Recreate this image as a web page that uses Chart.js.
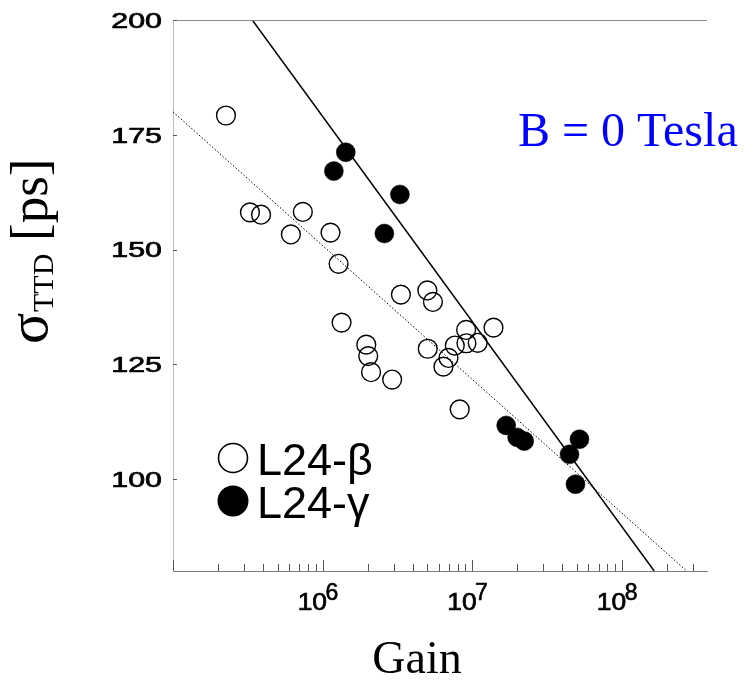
<!DOCTYPE html>
<html>
<head>
<meta charset="utf-8">
<script src="https://cdn.jsdelivr.net/npm/chart.js@4/dist/chart.umd.min.js"></script>
<style>
  html, body { margin: 0; padding: 0; background: #ffffff; }
  #wrap { width: 744px; height: 681px; }
</style>
</head>
<body>
<div id="wrap"><canvas id="c" width="744" height="681"></canvas></div>
<script>
// ---- Data ----
const betaGain  = [2.26e5, 3.27e5, 3.88e5, 6.14e5, 7.38e5, 1.13e6, 1.28e6, 1.34e6, 1.96e6, 2.02e6, 2.11e6, 2.92e6,
                   3.34e6, 5.02e6, 5.47e6, 5.05e6, 6.43e6, 6.95e6, 7.66e6, 9.12e6, 9.16e6, 1.09e7, 1.39e7, 8.26e6];
const betaSigma = [179.2, 158.1, 157.6, 153.3, 158.2, 153.7, 146.9, 134.1, 129.3, 126.8, 123.3, 121.7,
                   140.2, 141.1, 138.6, 128.4, 124.5, 126.4, 129.1, 132.5, 129.6, 129.7, 133.0, 115.2];
const gammaGain  = [1.19e6, 1.43e6, 2.59e6, 3.29e6, 1.69e7, 2.0e7, 2.23e7, 4.48e7, 4.91e7, 5.22e7];
const gammaSigma = [167.1, 171.2, 153.5, 162.0, 111.7, 109.1, 108.3, 105.4, 98.9, 108.7];
// fit lines (end points)
const solidFitGain  = [3.39e5, 1.65e8];
const solidFitSigma = [200, 80];
const dottedFitGain  = [1.0e5, 2.72e8];
const dottedFitSigma = [180, 80];
// axes
const xMin = 1e5, xMax = 3.72e8;
const yMin = 80, yMax = 200;
const xMajorTicks = [1e6, 1e7, 1e8];
const xMajorExp   = ["6", "7", "8"];
const xDecades    = [1e5, 1e6, 1e7, 1e8];
const xMinorMult  = [2, 3, 4, 5, 6, 7, 8, 9];
const yTicks = [200, 175, 150, 125, 100];
const legendLabels = ["L24-\u03B2", "L24-\u03B3"];
const annotationText = "B = 0 Tesla";
const xTitle = "Gain";

const toPts = (xs, ys) => xs.map((x, i) => ({ x: x, y: ys[i] }));

function heavyText(ctx, t, x, y, w) {
  ctx.fillText(t, x, y);
  ctx.lineWidth = w;
  ctx.strokeText(t, x, y);
}

const decor = {
  id: 'decor',
  afterDraw(chart) {
    const ctx = chart.ctx;
    const a = chart.chartArea;
    const xs = chart.scales.x, ys = chart.scales.y;
    ctx.save();
    // top frame line
    ctx.strokeStyle = '#8a8a8a';
    ctx.lineWidth = 1;
    ctx.beginPath();
    ctx.moveTo(a.left, a.top + 0.5);
    ctx.lineTo(a.right, a.top + 0.5);
    ctx.stroke();
    // x ticks (inward)
    ctx.strokeStyle = '#555';
    ctx.lineWidth = 1;
    xDecades.forEach(d => {
      [1].concat(xMinorMult).forEach(m => {
        const v = d * m;
        if (v < xMin || v > xMax) return;
        const px = Math.round(xs.getPixelForValue(v)) + 0.5;
        const len = (m === 1) ? 11 : 7;
        ctx.beginPath();
        ctx.moveTo(px, a.bottom);
        ctx.lineTo(px, a.bottom - len);
        ctx.stroke();
      });
    });
    // y ticks
    yTicks.forEach(v => {
      const py = Math.round(ys.getPixelForValue(v)) + 0.5;
      ctx.beginPath();
      ctx.moveTo(a.left, py);
      ctx.lineTo(a.left + 4, py);
      ctx.stroke();
    });
    // y tick labels (wide sans)
    ctx.fillStyle = '#000';
    ctx.strokeStyle = '#000';
    ctx.font = '22px "Liberation Sans", Arial, sans-serif';
    ctx.textAlign = 'right';
    ctx.textBaseline = 'alphabetic';
    yTicks.forEach(v => {
      const py = ys.getPixelForValue(v);
      ctx.save();
      ctx.translate(162, py + 7.9);
      ctx.scale(1.38, 1);
      heavyText(ctx, String(v), 0, 0, 0.7);
      ctx.restore();
    });
    // x tick labels: 10^n
    xMajorTicks.forEach((v, i) => {
      const px = xs.getPixelForValue(v);
      ctx.save();
      ctx.translate(px + 4.5, 609.5);
      ctx.scale(1.1, 1);
      ctx.font = '24px "Liberation Sans", Arial, sans-serif';
      ctx.textAlign = 'right';
      heavyText(ctx, '10', 0, 0, 0.7);
      ctx.restore();
      ctx.font = '23px "Liberation Sans", Arial, sans-serif';
      ctx.textAlign = 'left';
      heavyText(ctx, xMajorExp[i], px + 3, 600, 0.6);
    });
    // x title
    ctx.font = '46px "Liberation Serif", "Times New Roman", serif';
    ctx.textAlign = 'center';
    ctx.fillText(xTitle, 417, 673);
    // y title: sigma_TTD [ps]
    ctx.save();
    ctx.translate(47, 344);
    ctx.rotate(-Math.PI / 2);
    ctx.textAlign = 'left';
    ctx.font = '58px "Liberation Serif", "Times New Roman", serif';
    ctx.fillText('\u03C3', 0, 0);
    ctx.font = '30px "Liberation Serif", "Times New Roman", serif';
    ctx.fillText('TTD', 32, 6);
    ctx.font = '53px "Liberation Serif", "Times New Roman", serif';
    ctx.fillText('[ps]', 103, 0);
    ctx.restore();
    // annotation
    ctx.fillStyle = '#0000ff';
    ctx.font = '48px "Liberation Serif", "Times New Roman", serif';
    ctx.textAlign = 'left';
    ctx.fillText(annotationText, 518, 146);
    // legend
    ctx.fillStyle = '#000';
    ctx.strokeStyle = '#000';
    ctx.lineWidth = 1.6;
    ctx.beginPath();
    ctx.arc(233, 458, 14.5, 0, Math.PI * 2);
    ctx.stroke();
    ctx.beginPath();
    ctx.arc(233, 501, 15.5, 0, Math.PI * 2);
    ctx.fill();
    ctx.font = '45px "Liberation Sans", Arial, sans-serif';
    ctx.fillText(legendLabels[0], 257, 475);
    ctx.fillText(legendLabels[1], 257, 518);
    ctx.restore();
  }
};

new Chart(document.getElementById('c'), {
  type: 'scatter',
  data: {
    datasets: [
      {
        label: 'fit solid',
        data: toPts(solidFitGain, solidFitSigma),
        showLine: true, pointRadius: 0,
        borderColor: '#000', borderWidth: 1.5, fill: false
      },
      {
        label: 'fit dotted',
        data: toPts(dottedFitGain, dottedFitSigma),
        showLine: true, pointRadius: 0,
        borderColor: '#000', borderWidth: 1, borderDash: [1.5, 2], fill: false
      },
      {
        label: legendLabels[0],
        data: toPts(betaGain, betaSigma),
        pointStyle: 'circle', pointRadius: 9.4,
        pointBackgroundColor: 'rgba(0,0,0,0)',
        pointBorderColor: '#000', pointBorderWidth: 1.4
      },
      {
        label: legendLabels[1],
        data: toPts(gammaGain, gammaSigma),
        pointStyle: 'circle', pointRadius: 9.5,
        pointBackgroundColor: '#000',
        pointBorderColor: '#000', pointBorderWidth: 0.5
      }
    ]
  },
  options: {
    responsive: false,
    animation: false,
    devicePixelRatio: 1,
    layout: { padding: { left: 173, right: 37, top: 20, bottom: 110 } },
    plugins: { legend: { display: false }, tooltip: { enabled: false } },
    scales: {
      x: {
        type: 'logarithmic', min: xMin, max: xMax,
        ticks: { display: false },
        grid: { display: false, drawTicks: false },
        border: { display: true, color: '#7a7a7a', width: 1 }
      },
      y: {
        type: 'linear', min: yMin, max: yMax,
        ticks: { display: false },
        grid: { display: false, drawTicks: false },
        border: { display: true, color: '#bdbdbd', width: 1, dash: [2, 2] }
      }
    }
  },
  plugins: [decor]
});
</script>
</body>
</html>
